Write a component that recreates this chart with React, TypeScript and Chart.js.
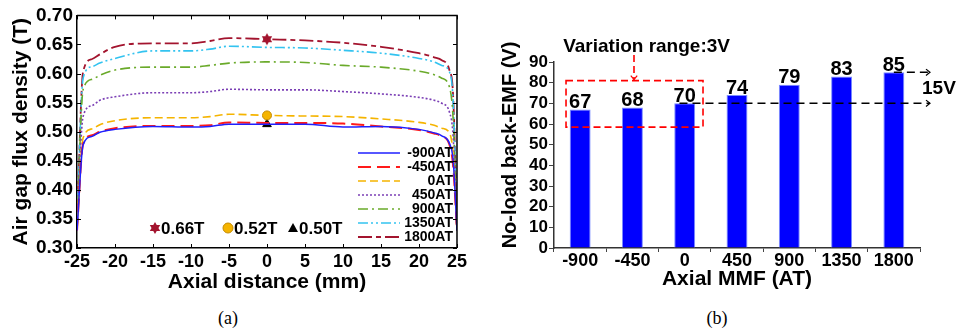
import React, { useEffect, useRef } from "react";
import { Chart, registerables } from "chart.js";
Chart.register(...registerables);

const FONT = "'Liberation Sans', Arial, Helvetica, sans-serif";

// ---------- Data: (a) air-gap flux density ----------
const axialPositions = [-25, -24.2, -23, -22, -20, -15, -10, -7.5, -5, 0, 5, 10, 15, 20, 22, 23, 24, 24.5, 25];
const fluxM900 = [0.33, 0.477, 0.492, 0.499, 0.504, 0.509, 0.508, 0.509, 0.513, 0.513, 0.513, 0.508, 0.509, 0.504, 0.498, 0.493, 0.48, 0.45, 0.33];
const fluxM450 = [0.33, 0.479, 0.494, 0.5, 0.506, 0.51, 0.51, 0.511, 0.516, 0.515, 0.515, 0.514, 0.509, 0.503, 0.497, 0.492, 0.478, 0.44, 0.33];
const flux0 = [0.335, 0.489, 0.505, 0.512, 0.519, 0.524, 0.524, 0.526, 0.53, 0.528, 0.527, 0.526, 0.522, 0.516, 0.511, 0.506, 0.498, 0.46, 0.33];
const flux450 = [0.34, 0.526, 0.545, 0.554, 0.56, 0.567, 0.567, 0.569, 0.573, 0.572, 0.572, 0.569, 0.565, 0.559, 0.554, 0.549, 0.534, 0.49, 0.33];
const flux900 = [0.34, 0.572, 0.59, 0.597, 0.606, 0.611, 0.611, 0.614, 0.618, 0.62, 0.619, 0.614, 0.611, 0.604, 0.598, 0.592, 0.577, 0.52, 0.33];
const flux1350 = [0.345, 0.592, 0.612, 0.618, 0.626, 0.639, 0.639, 0.642, 0.647, 0.645, 0.644, 0.64, 0.635, 0.626, 0.62, 0.614, 0.603, 0.55, 0.33];
const flux1800 = [0.345, 0.603, 0.625, 0.633, 0.646, 0.652, 0.652, 0.656, 0.661, 0.659, 0.657, 0.653, 0.646, 0.635, 0.628, 0.623, 0.606, 0.56, 0.33];
const seriesNames = ["-900AT", "-450AT", "0AT", "450AT", "900AT", "1350AT", "1800AT"];
const seriesValues = [fluxM900, fluxM450, flux0, flux450, flux900, flux1350, flux1800];
const peakLabels = ["0.66T", "0.52T", "0.50T"];
const peakPositions = [0, 0, 0];
const peakValues = [0.659, 0.528, 0.513];
const xTickStep = 5;
const yTickStep = 0.05;

// ---------- Data: (b) no-load back-EMF ----------
const mmfLabels = ["-900", "-450", "0", "450", "900", "1350", "1800"];
const backEmf = [67, 68, 70, 74, 79, 83, 85];
const emfTickStep = 10;
const variationText = "Variation range:3V";
const spreadText = "15V";

// ---------- Styles ----------
const seriesStyles = [
  { color: "#1f1fff", dash: [] as number[], width: 1.5 },
  { color: "#ff1a1a", dash: [13, 6], width: 2 },
  { color: "#f5b400", dash: [8, 4], width: 1.6 },
  { color: "#7b3fb5", dash: [2, 2], width: 1.6 },
  { color: "#6aaa2a", dash: [10, 4, 2, 4], width: 1.6 },
  { color: "#33c3f0", dash: [10, 3, 2, 3, 2, 3], width: 1.6 },
  { color: "#a3142e", dash: [14, 4, 5, 4], width: 1.8 },
];
const peakColors = ["#a3142e", "#f5b400", "#000000"];

function hexagram(ctx: CanvasRenderingContext2D, x: number, y: number, r: number) {
  ctx.beginPath();
  for (let k = 0; k < 2; k++) {
    const off = k === 0 ? -Math.PI / 2 : Math.PI / 2;
    for (let i = 0; i < 3; i++) {
      const a = off + (i * 2 * Math.PI) / 3;
      const px = x + r * Math.cos(a);
      const py = y + r * Math.sin(a);
      if (i === 0) ctx.moveTo(px, py);
      else ctx.lineTo(px, py);
    }
    ctx.closePath();
  }
  ctx.fill();
}

function makeStarImage(color: string) {
  const c = document.createElement("canvas");
  c.width = 14;
  c.height = 14;
  const g = c.getContext("2d")!;
  g.fillStyle = color;
  hexagram(g, 7, 7, 6);
  return c;
}

const leftDecor = {
  id: "leftDecor",
  afterDraw(chart: any) {
    const { ctx, chartArea: ca, scales } = chart;
    const xs = scales.x;
    const ys = scales.y;
    ctx.save();
    ctx.strokeStyle = "#000";
    ctx.lineWidth = 1.5;
    ctx.setLineDash([]);
    ctx.beginPath();
    ctx.moveTo(ca.left, ca.top);
    ctx.lineTo(ca.right, ca.top);
    ctx.lineTo(ca.right, ca.bottom);
    ctx.stroke();
    ctx.lineWidth = 1;
    ctx.beginPath();
    xs.ticks.forEach((t: any) => {
      const px = Math.round(xs.getPixelForValue(t.value)) + 0.5;
      ctx.moveTo(px, ca.bottom);
      ctx.lineTo(px, ca.bottom - 4);
      ctx.moveTo(px, ca.top);
      ctx.lineTo(px, ca.top + 4);
    });
    ys.ticks.forEach((t: any) => {
      const py = Math.round(ys.getPixelForValue(t.value)) + 0.5;
      ctx.moveTo(ca.left, py);
      ctx.lineTo(ca.left + 4, py);
      ctx.moveTo(ca.right, py);
      ctx.lineTo(ca.right - 4, py);
    });
    ctx.stroke();

    // series legend (lower right)
    ctx.font = `bold 14px ${FONT}`;
    ctx.textAlign = "right";
    ctx.textBaseline = "middle";
    seriesNames.forEach((name, i) => {
      const st = seriesStyles[i];
      const yy = ca.bottom - 11 - (seriesNames.length - 1 - i) * 14;
      ctx.strokeStyle = st.color;
      ctx.lineWidth = st.width;
      ctx.setLineDash(st.dash);
      ctx.beginPath();
      ctx.moveTo(ca.right - 99, yy);
      ctx.lineTo(ca.right - 57, yy);
      ctx.stroke();
      ctx.setLineDash([]);
      ctx.fillStyle = "#000";
      ctx.fillText(name, ca.right - 4, yy + 0.5);
    });

    // peak marker legend (bottom)
    const my = ca.bottom - 20;
    const mx = [ca.left + 78, ca.left + 151, ca.left + 216];
    ctx.font = `bold 17px ${FONT}`;
    ctx.textAlign = "left";
    peakLabels.forEach((lab, i) => {
      ctx.fillStyle = peakColors[i];
      if (i === 0) hexagram(ctx, mx[i], my, 6);
      else if (i === 1) {
        ctx.beginPath();
        ctx.arc(mx[i], my, 5, 0, Math.PI * 2);
        ctx.fill();
        ctx.strokeStyle = "#c48a00";
        ctx.lineWidth = 1;
        ctx.stroke();
      } else {
        ctx.beginPath();
        ctx.moveTo(mx[i], my - 5);
        ctx.lineTo(mx[i] + 5, my + 4);
        ctx.lineTo(mx[i] - 5, my + 4);
        ctx.closePath();
        ctx.fill();
      }
      ctx.fillStyle = "#000";
      ctx.fillText(lab, mx[i] + 6, my + 1);
    });
    ctx.restore();
  },
};

function arrowHead(ctx: CanvasRenderingContext2D, x: number, y: number, dir: "right" | "down", s: number) {
  ctx.setLineDash([]);
  ctx.beginPath();
  if (dir === "right") {
    ctx.moveTo(x - s, y - s * 0.8);
    ctx.lineTo(x, y);
    ctx.lineTo(x - s, y + s * 0.8);
  } else {
    ctx.moveTo(x - s * 0.8, y - s);
    ctx.lineTo(x, y);
    ctx.lineTo(x + s * 0.8, y - s);
  }
  ctx.stroke();
}

const rightDecor = {
  id: "rightDecor",
  afterDraw(chart: any) {
    const { ctx, chartArea: ca, scales } = chart;
    const xs = scales.x;
    const ys = scales.y;
    ctx.save();
    // value labels
    const meta = chart.getDatasetMeta(0);
    ctx.font = `bold 20px ${FONT}`;
    ctx.fillStyle = "#000";
    ctx.textAlign = "center";
    ctx.textBaseline = "alphabetic";
    meta.data.forEach((bar: any, i: number) => {
      ctx.fillText(String(backEmf[i]), bar.x, bar.y - 1.5);
    });

    // y title (custom placement)
    ctx.save();
    ctx.translate(30, (ca.top + ca.bottom) / 2 - 10);
    ctx.rotate(-Math.PI / 2);
    ctx.font = `bold 20px ${FONT}`;
    ctx.textAlign = "center";
    ctx.textBaseline = "middle";
    ctx.fillText("No-load back-EMF (V)", 0, 0);
    ctx.restore();

    // red dashed box around the low-MMF bars
    const bx0 = xs.getPixelForValue(-0.27);
    const bx1 = xs.getPixelForValue(2.35);
    const by0 = ys.getPixelForValue(81);
    const by1 = ys.getPixelForValue(58.5);
    ctx.strokeStyle = "#ff0000";
    ctx.lineWidth = 1.6;
    ctx.setLineDash([7, 4]);
    ctx.strokeRect(bx0, by0, bx1 - bx0, by1 - by0);
    const ax = xs.getPixelForValue(1.03);
    ctx.beginPath();
    ctx.moveTo(ax, ca.top - 7);
    ctx.lineTo(ax, by0 - 1);
    ctx.stroke();
    ctx.lineWidth = 1.2;
    arrowHead(ctx, ax, by0 - 1, "down", 4);

    // text
    ctx.font = `bold 19px ${FONT}`;
    ctx.fillStyle = "#000";
    ctx.textAlign = "center";
    ctx.textBaseline = "alphabetic";
    ctx.fillText(variationText, xs.getPixelForValue(1.27), ca.top - 10);

    // black dashed reference lines
    const endX = ca.right + 10;
    const y70 = ys.getPixelForValue(backEmf[2]);
    const y85 = ys.getPixelForValue(backEmf[6]);
    ctx.strokeStyle = "#000";
    ctx.lineWidth = 1.5;
    ctx.setLineDash([8, 5]);
    ctx.beginPath();
    ctx.moveTo(xs.getPixelForValue(1.9), y70);
    ctx.lineTo(endX, y70);
    ctx.moveTo(xs.getPixelForValue(6), y85);
    ctx.lineTo(endX, y85);
    ctx.stroke();
    ctx.lineWidth = 1.2;
    arrowHead(ctx, endX, y70, "right", 4);
    arrowHead(ctx, endX, y85, "right", 4);
    ctx.font = `bold 19px ${FONT}`;
    ctx.textAlign = "left";
    ctx.textBaseline = "middle";
    ctx.fillText(spreadText, ca.right + 2, (y70 + y85) / 2 + 1);
    ctx.restore();
  },
};

export default function App() {
  const leftRef = useRef<HTMLCanvasElement>(null);
  const rightRef = useRef<HTMLCanvasElement>(null);

  useEffect(() => {
    const starImg = makeStarImage(peakColors[0]);
    const lineSets: any[] = seriesValues.map((vals, i) => ({
      label: seriesNames[i],
      data: axialPositions.map((x, k) => ({ x, y: vals[k] })),
      borderColor: seriesStyles[i].color,
      borderDash: seriesStyles[i].dash,
      borderWidth: seriesStyles[i].width,
      pointRadius: 0,
      fill: false,
      cubicInterpolationMode: "monotone",
    }));
    const markerSets: any[] = peakValues.map((v, i) => ({
      label: peakLabels[i],
      data: [{ x: peakPositions[i], y: v }],
      showLine: false,
      pointStyle: i === 0 ? starImg : i === 1 ? "circle" : "triangle",
      pointRadius: i === 1 ? 4.5 : 5,
      backgroundColor: peakColors[i],
      borderColor: i === 1 ? "#c48a00" : peakColors[i],
      borderWidth: 1,
    }));

    const tickFont = { family: FONT, size: 18, weight: "bold" as const };
    const left = new Chart(leftRef.current!, {
      type: "line",
      data: { datasets: [...lineSets, ...markerSets] },
      options: {
        responsive: false,
        animation: false,
        devicePixelRatio: 1,
        layout: { padding: { top: 15, right: 13, left: 0, bottom: 0 } },
        plugins: { legend: { display: false }, tooltip: { enabled: false } },
        scales: {
          x: {
            type: "linear",
            min: axialPositions[0],
            max: axialPositions[axialPositions.length - 1],
            ticks: { stepSize: xTickStep, font: tickFont, color: "#000", padding: 3, autoSkip: false },
            grid: { display: false, drawTicks: false },
            border: { display: true, color: "#000", width: 1.5 },
            title: {
              display: true,
              text: "Axial distance (mm)",
              color: "#000",
              font: { family: FONT, size: 21, weight: "bold" },
              padding: { top: 0, bottom: 5 },
            },
            afterFit: (s: any) => {
              s.height = 52;
            },
          },
          y: {
            min: 0.3,
            max: 0.7,
            ticks: {
              stepSize: yTickStep,
              font: { family: FONT, size: 19, weight: "bold" },
              color: "#000",
              padding: 4,
              autoSkip: false,
              callback: (v: any) => Number(v).toFixed(2),
            },
            grid: { display: false, drawTicks: false },
            border: { display: true, color: "#000", width: 1.5 },
            title: {
              display: true,
              text: "Air gap flux density (T)",
              color: "#000",
              font: { family: FONT, size: 21, weight: "bold" },
              padding: { top: 9, bottom: 0 },
            },
            afterFit: (s: any) => {
              s.width = 77;
            },
          },
        },
      } as any,
      plugins: [leftDecor],
    });

    const right = new Chart(rightRef.current!, {
      type: "bar",
      data: {
        labels: mmfLabels,
        datasets: [
          {
            data: backEmf,
            backgroundColor: "#0000ff",
            borderColor: "#7a8cff",
            borderWidth: 1,
            barPercentage: 0.4,
            categoryPercentage: 1,
          },
        ],
      },
      options: {
        responsive: false,
        animation: false,
        devicePixelRatio: 1,
        layout: { padding: { top: 62, right: 36, left: 0, bottom: 0 } },
        plugins: { legend: { display: false }, tooltip: { enabled: false } },
        scales: {
          x: {
            ticks: { font: tickFont, color: "#000", padding: -2, autoSkip: false, maxRotation: 0 },
            grid: { offset: true, drawOnChartArea: false, tickLength: 4, color: "#444" },
            border: { display: true, color: "#333", width: 1.5 },
            title: {
              display: true,
              text: "Axial MMF (AT)",
              color: "#000",
              font: { family: FONT, size: 21, weight: "bold" },
              padding: { top: 0, bottom: 8 },
            },
            afterFit: (s: any) => {
              s.height = 52;
            },
          },
          y: {
            min: 0,
            max: 90,
            ticks: { stepSize: emfTickStep, font: { family: FONT, size: 17, weight: "bold" }, color: "#000", padding: 1, autoSkip: false },
            grid: { drawOnChartArea: false, tickLength: 5, color: "#444" },
            border: { display: true, color: "#333", width: 1.5 },
            afterFit: (s: any) => {
              s.width = 74;
            },
          },
        },
      } as any,
      plugins: [rightDecor],
    });

    return () => {
      left.destroy();
      right.destroy();
    };
  }, []);

  const captionStyle: React.CSSProperties = {
    position: "absolute",
    top: 318,
    transform: "translate(-50%, -50%)",
    font: "18px 'Liberation Serif', 'Times New Roman', serif",
    color: "#000",
    whiteSpace: "nowrap",
  };

  return (
    <div style={{ position: "fixed", left: 0, top: 0, width: 956, height: 332, background: "#fff", overflow: "hidden" }}>
      <canvas ref={leftRef} width={470} height={300} style={{ position: "absolute", left: 0, top: 0, width: 470, height: 300 }} />
      <canvas ref={rightRef} width={476} height={300} style={{ position: "absolute", left: 480, top: 0, width: 476, height: 300 }} />
      <div style={{ ...captionStyle, left: 228 }}>(a)</div>
      <div style={{ ...captionStyle, left: 717 }}>(b)</div>
    </div>
  );
}
